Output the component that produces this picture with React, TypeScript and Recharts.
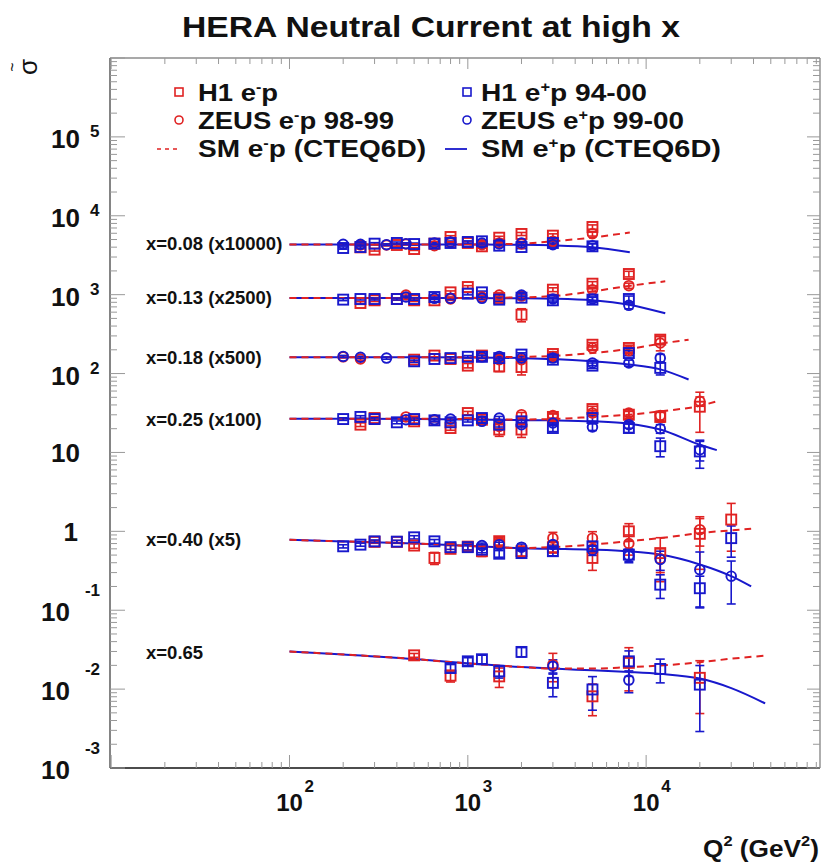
import React from 'react';
import { ComposedChart, Scatter, Line, XAxis, YAxis, ErrorBar } from 'recharts';

// ---------- data : [Q2 (GeV^2), plotted reduced cross section (scaled), error] ----------
type Pt = [number, number, number];
type Cv = [number, number];

const BIN_LABELS = ['x=0.08 (x10000)', 'x=0.13 (x2500)', 'x=0.18 (x500)', 'x=0.25 (x100)', 'x=0.40 (x5)', 'x=0.65'];

const H1_EM: Pt[] = [
  [250, 3980, 150], [300, 3720, 150], [400, 4262, 150], [500, 3790, 150], [650, 4430, 160], [800, 5385, 200], [1000, 4520, 180], [1200, 4100, 180], [1500, 5275, 220], [2000, 5880, 260], [3000, 5600, 300], [5000, 7210, 450],
  [250, 784, 30], [300, 848, 30], [400, 881, 30], [500, 848, 30], [650, 848, 35], [800, 1070, 45], [1000, 1250, 50], [1500, 907, 50], [2000, 558, 105], [3000, 1157, 65], [5000, 1378, 85], [8000, 1828, 150],
  [500, 150, 6], [650, 169, 7], [800, 153, 7], [1000, 126, 8], [1200, 169, 9], [1500, 123, 17], [2000, 121, 25], [3000, 177, 12], [5000, 232, 15], [8000, 211, 18], [12000, 269, 30],
  [250, 22.5, 1.2], [300, 27.3, 1.2], [500, 24.8, 1.2], [800, 20.4, 1.3], [1000, 31.6, 1.5], [1200, 26.0, 1.6], [1500, 19.5, 3.5], [2000, 19.5, 4], [3000, 28.2, 2.5], [5000, 35.5, 3], [8000, 30.1, 3], [12000, 28.2, 4], [20000, 38, 20],
  [300, 0.735, 0.03], [400, 0.735, 0.03], [500, 0.66, 0.05], [650, 0.46, 0.08], [800, 0.6, 0.06], [1000, 0.64, 0.06], [1200, 0.56, 0.08], [1500, 0.75, 0.08], [2000, 0.56, 0.08], [3000, 0.63, 0.1], [5000, 0.46, 0.14], [8000, 1.0, 0.25], [12000, 0.53, 0.3], [20000, 0.93, 0.6], [30000, 1.41, 0.85],
  [500, 0.0268, 0.0015], [800, 0.0148, 0.0025], [1500, 0.0145, 0.004], [5000, 0.0081, 0.0035], [8000, 0.0215, 0.012], [20000, 0.0139, 0.009],
];

const ZEUS_EM: Pt[] = [
  [250, 4262, 120], [350, 4262, 120], [450, 4385, 120], [650, 4180, 130], [800, 4520, 150], [1200, 4305, 150], [1500, 4520, 180], [2000, 4385, 200], [3000, 4745, 250], [5000, 5935, 400],
  [450, 990, 30], [800, 881, 35], [1200, 934, 40], [1500, 990, 45], [2000, 960, 55], [5000, 1157, 70], [8000, 1300, 100],
  [200, 163, 5], [250, 153, 5], [1500, 150, 8], [2000, 150, 10], [3000, 165, 10], [5000, 211, 14], [8000, 195, 16], [12000, 244, 50],
  [450, 28.2, 1], [650, 25.5, 1], [1500, 21.4, 1.5], [2000, 30.1, 2], [3000, 29.3, 2], [5000, 31.6, 2.5], [8000, 31.6, 3], [12000, 29.3, 4], [20000, 44.5, 6],
  [1500, 0.72, 0.07], [3000, 0.82, 0.15], [5000, 0.82, 0.17], [8000, 0.7, 0.2], [12000, 0.45, 0.15], [20000, 1.05, 0.4],
  [3000, 0.0204, 0.008],
];

const H1_EP: Pt[] = [
  [200, 3905, 130], [250, 4018, 130], [300, 4430, 130], [400, 4520, 130], [500, 4385, 130], [650, 4430, 140], [800, 4520, 150], [1000, 4655, 150], [1200, 4745, 160], [1500, 4180, 160], [2000, 4018, 180], [3000, 4520, 220], [5000, 4100, 300],
  [200, 865, 25], [250, 881, 25], [300, 881, 25], [400, 881, 25], [500, 881, 30], [650, 934, 30], [1000, 1029, 35], [1200, 1070, 40], [1500, 865, 40], [2000, 916, 45], [3000, 848, 50], [5000, 865, 60], [8000, 881, 80],
  [500, 143, 5], [650, 153, 5], [800, 157, 6], [1000, 163, 6], [1200, 163, 7], [1500, 157, 8], [2000, 174, 9], [3000, 150, 9], [5000, 126, 10], [8000, 182, 14], [12000, 118, 22],
  [200, 26.5, 1], [250, 28.2, 1], [300, 26.5, 1], [400, 24.1, 1], [500, 26.5, 1], [650, 25.5, 1], [800, 24.1, 1], [1000, 25.5, 1.2], [1200, 27.3, 1.3], [1500, 22.5, 1.5], [2000, 24.8, 1.8], [3000, 20.4, 2], [5000, 27.3, 2.5], [8000, 20.4, 2.5], [12000, 12.0, 3.2], [20000, 10.3, 4],
  [200, 0.646, 0.03], [250, 0.678, 0.03], [300, 0.747, 0.03], [400, 0.74, 0.03], [500, 0.84, 0.04], [650, 0.747, 0.04], [800, 0.63, 0.04], [1000, 0.63, 0.05], [1200, 0.586, 0.05], [1500, 0.52, 0.05], [2000, 0.53, 0.06], [3000, 0.56, 0.07], [5000, 0.646, 0.09], [8000, 0.507, 0.09], [12000, 0.211, 0.07], [20000, 0.19, 0.08], [30000, 0.82, 0.35],
  [800, 0.0185, 0.002], [1000, 0.0225, 0.0025], [1200, 0.0239, 0.003], [1500, 0.0168, 0.003], [2000, 0.0296, 0.004], [3000, 0.012, 0.004], [5000, 0.0099, 0.0045], [8000, 0.0225, 0.008], [12000, 0.018, 0.006], [20000, 0.0114, 0.0085],
];

const ZEUS_EP: Pt[] = [
  [200, 4345, 100], [250, 4345, 100], [350, 4305, 100], [450, 4430, 110], [650, 4520, 120], [800, 4655, 130], [1200, 4520, 140], [1500, 4385, 150], [2000, 4520, 170], [3000, 4305, 200], [5000, 4180, 280],
  [450, 934, 25], [650, 898, 30], [800, 898, 30], [1200, 898, 35], [2000, 990, 40], [3000, 881, 50], [5000, 881, 55], [8000, 732, 70],
  [200, 165, 5], [250, 161, 5], [350, 157, 5], [1200, 163, 7], [1500, 165, 8], [2000, 157, 9], [3000, 157, 10], [5000, 136, 10], [8000, 136, 12], [12000, 157, 18],
  [450, 26.0, 1], [650, 26.0, 1], [800, 26.5, 1], [1200, 24.8, 1.2], [1500, 27.3, 1.3], [2000, 22.5, 1.5], [3000, 23.6, 1.8], [5000, 21.0, 2], [8000, 22.5, 2.2], [12000, 20.0, 2.5], [20000, 10.8, 3],
  [1200, 0.66, 0.05], [1500, 0.678, 0.05], [2000, 0.63, 0.06], [3000, 0.68, 0.07], [5000, 0.575, 0.08], [8000, 0.49, 0.09], [12000, 0.44, 0.12], [20000, 0.327, 0.22], [30000, 0.27, 0.15],
  [3000, 0.0195, 0.004], [8000, 0.013, 0.004],
];

const SM_EM: Cv[][] = [
  [[100, 4310], [300, 4310], [1000, 4330], [1500, 4360], [2000, 4430], [3000, 4750], [5000, 5300], [8100, 6150]],
  [[100, 907], [500, 907], [1000, 910], [1500, 915], [2000, 925], [3000, 960], [5000, 1100], [8000, 1290], [12800, 1476]],
  [[100, 161], [500, 161], [1000, 161], [2000, 163], [3000, 167], [5000, 182], [8000, 205], [12000, 239], [17300, 269]],
  [[100, 26.8], [500, 26.7], [1000, 26.5], [2000, 26.2], [3000, 26.5], [5000, 28.2], [8000, 30.1], [12000, 33.2], [20000, 39], [24900, 44.5]],
  [[100, 0.78], [200, 0.745], [500, 0.7], [1000, 0.655], [2000, 0.615], [3000, 0.63], [5000, 0.68], [8000, 0.75], [12000, 0.82], [20000, 0.95], [30000, 1.03], [38800, 1.08]],
  [[100, 0.0299], [200, 0.0275], [500, 0.0241], [800, 0.022], [2000, 0.0191], [3000, 0.0182], [5000, 0.0182], [8000, 0.019], [12000, 0.0199], [20000, 0.0219], [30000, 0.0243], [46500, 0.0265]],
];

const SM_EP: Cv[][] = [
  [[100, 4310], [300, 4310], [1000, 4320], [1500, 4300], [2000, 4290], [3000, 4220], [5000, 3980], [8100, 3440]],
  [[100, 907], [500, 907], [1000, 905], [2000, 900], [3000, 890], [5000, 848], [8000, 745], [12800, 580]],
  [[100, 161], [500, 161], [1000, 160], [2000, 157], [3000, 153], [5000, 143], [8000, 130], [12000, 113], [17300, 84]],
  [[100, 26.8], [500, 26.6], [1000, 26.2], [2000, 25.7], [3000, 25.5], [5000, 24.8], [8000, 23.1], [12000, 19.5], [20000, 12.5], [24900, 10.7]],
  [[100, 0.78], [200, 0.745], [500, 0.7], [1000, 0.655], [2000, 0.61], [3000, 0.6], [5000, 0.586], [8000, 0.558], [12000, 0.507], [20000, 0.38], [30000, 0.27], [38800, 0.2]],
  [[100, 0.0299], [200, 0.0275], [500, 0.0241], [800, 0.022], [2000, 0.0191], [3000, 0.0182], [5000, 0.0173], [8000, 0.0165], [12000, 0.0156], [20000, 0.0136], [30000, 0.0103], [46500, 0.0066]],
];

// ---------- axes ----------
const X_DOMAIN: [number, number] = [9.85, 94400];
const Y_DOMAIN: [number, number] = [1e-3, 1e6];
const X_DECADES = [10, 100, 1000, 10000];
const X_LABELLED = [100, 1000, 10000];
const Y_DECADES = [1e-3, 1e-2, 1e-1, 1, 10, 100, 1e3, 1e4, 1e5];
const Y_TOP = 1e6;
const MINOR_MULT = [1, 2, 3, 4, 5, 6, 7, 8, 9];

const X_TICKS = X_DECADES.flatMap((d) => MINOR_MULT.map((m) => m * d)).filter((v) => v >= X_DOMAIN[0] && v <= X_DOMAIN[1]);
const Y_TICKS = [...Y_DECADES.flatMap((d) => MINOR_MULT.map((m) => m * d)), Y_TOP];

// ---------- styling ----------
const RED = '#e02222';
const BLUE = '#1818cc';
const TICK = '#999999';
const FONT = '"Liberation Sans", Arial, Helvetica, sans-serif';
const W = 821;
const H = 865;
const MARGIN = { top: 57, right: 0, bottom: 96, left: 109 };

const toPts = (a: Pt[]) => a.map(([q, v, e]) => ({ q, v, e }));
const toCv = (a: Cv[]) => a.map(([q, v]) => ({ q, v }));

const isMajor = (v: number) => {
  const l = Math.log10(v);
  return Math.abs(l - Math.round(l)) < 1e-6;
};
const expOf = (v: number) => Math.round(Math.log10(v));

const BottomTick = (p: any) => {
  const { x, y, payload } = p;
  const v = payload.value;
  const maj = isMajor(v);
  const lab = X_LABELLED.some((t) => Math.abs(t - v) < 1e-6);
  return (
    <g>
      <line x1={x} y1={y} x2={x} y2={y - (maj ? 13 : 6)} stroke={TICK} strokeWidth={1} />
      {lab && (
        <g fontFamily={FONT} fontWeight="bold" fill="#111">
          <text x={x} y={y + 43} fontSize={24} textAnchor="middle">10</text>
          <text x={x + 15} y={y + 24} fontSize={17}>{expOf(v)}</text>
        </g>
      )}
    </g>
  );
};

const TopTick = (p: any) => {
  const { x, y, payload } = p;
  const maj = isMajor(payload.value);
  return <line x1={x} y1={y} x2={x} y2={y + (maj ? 11 : 6)} stroke={TICK} strokeWidth={1} />;
};

const LeftTick = (p: any) => {
  const { x, y, payload } = p;
  const v = payload.value;
  const maj = isMajor(v);
  const e = expOf(v);
  const lab = maj && v < Y_TOP * 0.5;
  let label: React.ReactNode = null;
  if (lab) {
    if (e === 0) {
      label = <text x={x - 32} y={y + 10} fontSize={26} textAnchor="end">1</text>;
    } else if (e === 1) {
      label = <text x={x - 30} y={y + 10} fontSize={26} textAnchor="end">10</text>;
    } else if (e > 1) {
      label = (
        <>
          <text x={x - 30} y={y + 11} fontSize={26} textAnchor="end">10</text>
          <text x={x - 20} y={y} fontSize={17}>{e}</text>
        </>
      );
    } else {
      label = (
        <>
          <text x={x - 40} y={y + 11} fontSize={26} textAnchor="end">10</text>
          <text x={x - 10} y={y - 14} fontSize={17} textAnchor="end">{e}</text>
        </>
      );
    }
  }
  return (
    <g>
      <line x1={x} y1={y} x2={x + (maj ? 15 : 7)} y2={y} stroke={TICK} strokeWidth={1} />
      {label && <g fontFamily={FONT} fontWeight="bold" fill="#111">{label}</g>}
    </g>
  );
};

const RightTick = (p: any) => {
  const { x, y, payload } = p;
  const maj = isMajor(payload.value);
  return <line x1={x} y1={y} x2={x - (maj ? 13 : 7)} y2={y} stroke={TICK} strokeWidth={1} />;
};

const squareShape = (color: string) => (p: any) => (
  <rect x={p.cx - 5} y={p.cy - 5} width={10} height={10} fill="none" stroke={color} strokeWidth={1.9} />
);
const circleShape = (color: string) => (p: any) => (
  <circle cx={p.cx} cy={p.cy} r={4.8} fill="none" stroke={color} strokeWidth={1.9} />
);

const SERIES = [
  { name: 'H1 e-p', data: H1_EM, color: RED, shape: squareShape(RED) },
  { name: 'ZEUS e-p', data: ZEUS_EM, color: RED, shape: circleShape(RED) },
  { name: 'H1 e+p', data: H1_EP, color: BLUE, shape: squareShape(BLUE) },
  { name: 'ZEUS e+p', data: ZEUS_EP, color: BLUE, shape: circleShape(BLUE) },
];

const LEGEND_LEFT = [
  { pre: 'H1 e', sup: '-', post: 'p', len: 80 },
  { pre: 'ZEUS e', sup: '-', post: 'p 98-99', len: 196 },
  { pre: 'SM e', sup: '-', post: 'p (CTEQ6D)', len: 228 },
];
const LEGEND_RIGHT = [
  { pre: 'H1 e', sup: '+', post: 'p 94-00', len: 166 },
  { pre: 'ZEUS e', sup: '+', post: 'p 99-00', len: 203 },
  { pre: 'SM e', sup: '+', post: 'p (CTEQ6D)', len: 240 },
];
const LEGEND_ROWS_Y = [101, 128.5, 157];
const BIN_LABEL_Y = [250, 304, 364, 426, 546, 659];

const LegendText = ({ x, y, item }: any) => (
  <text x={x} y={y} fontSize={24} textLength={item.len} lengthAdjust="spacingAndGlyphs">
    {item.pre}
    <tspan dy={-9} fontSize={14}>{item.sup}</tspan>
    <tspan dy={9}>{item.post}</tspan>
  </text>
);

export default function App() {
  return (
    <div style={{ position: 'absolute', left: 0, top: 0, width: W, height: H, background: '#fff', overflow: 'hidden' }}>
      <div style={{ position: 'absolute', left: 0, top: 0 }}>
        <ComposedChart width={W} height={H} margin={MARGIN}>
          <XAxis xAxisId={0} type="number" dataKey="q" scale="log" domain={X_DOMAIN} allowDataOverflow ticks={X_TICKS} interval={0}
            height={1} tickSize={0} tickMargin={0} tickLine={false} tick={<BottomTick />} axisLine={{ stroke: '#111', strokeWidth: 1.6 }} />
          <XAxis xAxisId="top" orientation="top" type="number" dataKey="q" scale="log" domain={X_DOMAIN} allowDataOverflow ticks={X_TICKS} interval={0}
            height={1} tickSize={0} tickMargin={0} tickLine={false} tick={<TopTick />} axisLine={{ stroke: '#555', strokeWidth: 1.2 }} />
          <YAxis yAxisId={0} type="number" dataKey="v" scale="log" domain={Y_DOMAIN} allowDataOverflow ticks={Y_TICKS} interval={0}
            width={1} tickSize={0} tickMargin={0} tickLine={false} tick={<LeftTick />} axisLine={{ stroke: '#333', strokeWidth: 1.2 }} />
          <YAxis yAxisId="right" orientation="right" type="number" dataKey="v" scale="log" domain={Y_DOMAIN} allowDataOverflow ticks={Y_TICKS} interval={0}
            width={1} tickSize={0} tickMargin={0} tickLine={false} tick={<RightTick />} axisLine={{ stroke: '#777', strokeWidth: 1.2 }} />

          {SM_EP.map((c, i) => (
            <Line key={'ep' + i} xAxisId={0} yAxisId={0} data={toCv(c)} dataKey="v" type="monotone" stroke={BLUE} strokeWidth={2}
              dot={false} activeDot={false} isAnimationActive={false} />
          ))}
          {SM_EM.map((c, i) => (
            <Line key={'em' + i} xAxisId={0} yAxisId={0} data={toCv(c)} dataKey="v" type="monotone" stroke={RED} strokeWidth={2}
              strokeDasharray="7 5" dot={false} activeDot={false} isAnimationActive={false} />
          ))}

          {SERIES.map((s) => (
            <Scatter key={s.name} xAxisId={0} yAxisId={0} name={s.name} data={toPts(s.data)} dataKey="v" shape={s.shape} isAnimationActive={false}>
              <ErrorBar dataKey="e" direction="y" width={4.5} stroke={s.color} strokeWidth={1.6} isAnimationActive={false} />
            </Scatter>
          ))}
        </ComposedChart>
      </div>

      <svg width={W} height={H} style={{ position: 'absolute', left: 0, top: 0, pointerEvents: 'none' }}
        fontFamily={FONT} fontWeight="bold" fill="#111">
        <text x={431} y={37} fontSize={30} textAnchor="middle" textLength={498} lengthAdjust="spacingAndGlyphs">
          HERA Neutral Current at high x
        </text>

        <g transform="translate(37,67) rotate(-90)">
          <text x={0} y={0} fontSize={26} textAnchor="middle" fontWeight="normal">σ</text>
          <text x={0} y={-19} fontSize={16} textAnchor="middle" fontWeight="normal">~</text>
        </g>

        <text x={703} y={857} fontSize={24} textLength={116} lengthAdjust="spacingAndGlyphs">
          Q<tspan dy={-11} fontSize={15}>2</tspan>
          <tspan dy={11}> (GeV</tspan>
          <tspan dy={-11} fontSize={15}>2</tspan>
          <tspan dy={11}>)</tspan>
        </text>

        {BIN_LABELS.map((t, i) => (
          <text key={t} x={146} y={BIN_LABEL_Y[i]} fontSize={18.5}>{t}</text>
        ))}

        {/* legend */}
        <rect x={175} y={88} width={8} height={8} fill="none" stroke={RED} strokeWidth={1.6} />
        <circle cx={179} cy={120} r={4} fill="none" stroke={RED} strokeWidth={1.6} />
        <line x1={157} y1={149} x2={179} y2={149} stroke={RED} strokeWidth={1.6} strokeDasharray="4 4" />
        <rect x={463} y={88} width={8} height={8} fill="none" stroke={BLUE} strokeWidth={1.6} />
        <circle cx={467} cy={120} r={4} fill="none" stroke={BLUE} strokeWidth={1.6} />
        <line x1={445} y1={149} x2={467} y2={149} stroke={BLUE} strokeWidth={1.8} />
        {LEGEND_LEFT.map((it, i) => <LegendText key={'l' + i} x={198} y={LEGEND_ROWS_Y[i]} item={it} />)}
        {LEGEND_RIGHT.map((it, i) => <LegendText key={'r' + i} x={481} y={LEGEND_ROWS_Y[i]} item={it} />)}
      </svg>
    </div>
  );
}
